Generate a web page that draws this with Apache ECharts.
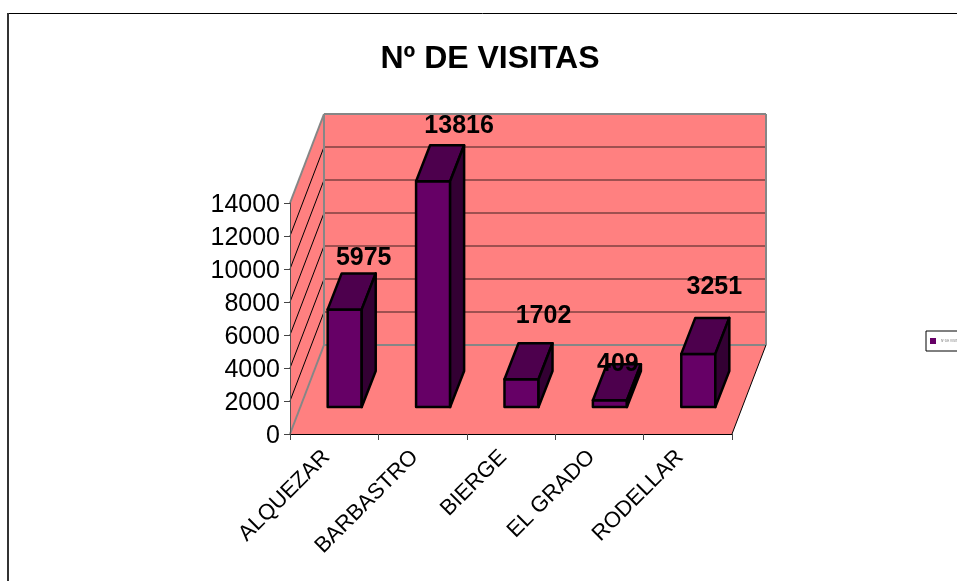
<!DOCTYPE html>
<html>
<head>
<meta charset="utf-8">
<style>
  html, body { margin: 0; padding: 0; background: #fff; }
  #chart { width: 957px; height: 581px; }
</style>
<script src="https://cdn.jsdelivr.net/npm/echarts@6/dist/echarts.min.js"></script>
</head>
<body>
<div id="chart"></div>
<script>
const categories = ['ALQUEZAR', 'BARBASTRO', 'BIERGE', 'EL GRADO', 'RODELLAR']
const visits = [5975, 13816, 1702, 409, 3251]
const yTicks = [0, 2000, 4000, 6000, 8000, 10000, 12000, 14000]
const seriesName = 'Nº DE VISITAS'

// fake 3d: how far the back of the floor sits from the front
const floorDx = 34, floorDy = -89
// where the bars stand on the floor and how deep they are
const barDx = 10.5, barDy = -27, topDx = 14, topDy = -36
const barScale = 0.99
// excel put the value labels by hand, offset from the front top left of each bar
const labelShift = [[36, -51], [43, -55], [39, -63], [25, -36], [33, -67]]

const font = '"Liberation Sans", Arial, sans-serif'
const wallColor = '#FF8080', edgeGrey = '#868686'

const poly = (points, fill) => ({
    type: 'polygon',
    shape: {points},
    style: {fill, stroke: 'none'}
})
const line = (x1, y1, x2, y2, stroke, lineWidth) => ({
    type: 'line',
    shape: {x1, y1, x2, y2},
    style: {stroke, lineWidth}
})

const renderWalls = (params, api) => {
    const c = params.coordSys
    const l = c.x, r = c.x + c.width, b = c.y + c.height, t = c.y
    const children = [
        poly([[l + floorDx, t + floorDy], [r + floorDx, t + floorDy], [r + floorDx, b + floorDy], [l + floorDx, b + floorDy]], wallColor),
        poly([[l, t], [l + floorDx, t + floorDy], [l + floorDx, b + floorDy], [l, b]], wallColor),
        poly([[l, b], [r, b], [r + floorDx, b + floorDy], [l + floorDx, b + floorDy]], wallColor),
    ]
    yTicks.slice(1, -1).forEach(v => {
        const y = api.coord([0, v])[1]
        children.push(line(l + floorDx, y + floorDy, r + floorDx, y + floorDy, '#7F4040', 1.5))
        children.push(line(l, y, l + floorDx, y + floorDy, '#000', 1))
    })
    children.push(line(l, b, l + floorDx, b + floorDy, edgeGrey, 2))
    children.push(line(l + floorDx, b + floorDy, r + floorDx, b + floorDy, edgeGrey, 2))
    children.push(line(l, t, l + floorDx, t + floorDy, edgeGrey, 2))
    children.push(line(l + floorDx, t + floorDy, r + floorDx, t + floorDy, edgeGrey, 2))
    children.push(line(l + floorDx, t + floorDy, l + floorDx, b + floorDy, edgeGrey, 2))
    children.push(line(r + floorDx, t + floorDy, r + floorDx, b + floorDy, edgeGrey, 2))
    children.push(line(r, b, r + floorDx, b + floorDy, '#000', 1))
    return {type: 'group', children}
}

const renderBar = (params, api) => {
    const i = api.value(0)
    const base = api.coord([i, 0])
    const top = api.coord([i, api.value(1)])
    const w = api.size([1, 0])[0] * 0.385
    const x0 = base[0] + barDx - w / 2
    const x1 = x0 + w
    const y0 = base[1] + barDy
    const y1 = y0 - (base[1] - top[1]) * barScale
    const faces = [
        [[x0, y1], [x1, y1], [x1, y0], [x0, y0]],
        [[x0, y1], [x0 + topDx, y1 + topDy], [x1 + topDx, y1 + topDy], [x1, y1]],
        [[x1, y1], [x1 + topDx, y1 + topDy], [x1 + topDx, y0 + topDy], [x1, y0]],
    ]
    const fills = ['#660066', '#4D004D', '#330033']
    const children = faces.map((points, k) => ({
        type: 'polygon',
        shape: {points},
        style: {fill: fills[k], stroke: '#000', lineWidth: 2.5, lineJoin: 'round'}
    }))
    const shift = labelShift[params.dataIndex]
    children.push({
        type: 'text',
        z2: 10,
        style: {
            x: x0 + shift[0],
            y: y1 + shift[1],
            text: String(api.value(1)),
            fill: '#000',
            font: 'bold 25px ' + font,
            align: 'center',
            verticalAlign: 'middle'
        }
    })
    return {type: 'group', children}
}

const option = {
    animation: false,
    backgroundColor: '#fff',
    title: {
        text: seriesName,
        left: 485,
        top: 38,
        textAlign: 'center',
        textStyle: {fontFamily: font, fontSize: 32, fontWeight: 'bold', color: '#000'}
    },
    legend: {
        data: [seriesName],
        left: 926,
        top: 331,
        orient: 'vertical',
        padding: [7, 30, 7, 4],
        itemWidth: 6,
        itemHeight: 6,
        itemGap: 0,
        icon: 'rect',
        backgroundColor: '#fff',
        borderColor: '#000',
        borderWidth: 1,
        textStyle: {fontFamily: font, fontSize: 3, color: '#777'}
    },
    grid: {left: 290, top: 203, width: 442, height: 231},
    xAxis: {
        type: 'category',
        data: categories,
        z: 3,
        axisLine: {lineStyle: {color: '#000', width: 1}},
        axisTick: {show: true, length: 6, alignWithLabel: false, lineStyle: {color: '#444'}},
        axisLabel: {
            rotate: 45,
            interval: 0,
            margin: 12,
            padding: [0, 11, 0, 0],
            fontFamily: font,
            fontSize: 22,
            color: '#000'
        }
    },
    yAxis: {
        type: 'value',
        min: 0,
        max: 14000,
        interval: 2000,
        z: 3,
        axisLine: {show: true, lineStyle: {color: '#555', width: 1}},
        axisTick: {show: true, length: 6, lineStyle: {color: '#444'}},
        splitLine: {show: false},
        axisLabel: {
            margin: 10,
            verticalAlign: 'top',
            lineHeight: 4,
            formatter: v => String(v),
            fontFamily: font,
            fontSize: 25,
            color: '#000'
        }
    },
    series: [
        {
            type: 'custom',
            name: 'walls',
            z: 1,
            silent: true,
            renderItem: renderWalls,
            encode: {x: 0, y: 1},
            data: [[0, 0]]
        },
        {
            type: 'custom',
            name: seriesName,
            z: 4,
            renderItem: renderBar,
            encode: {x: 0, y: 1},
            itemStyle: {color: '#660066'},
            data: visits.map((v, i) => [i, v])
        }
    ],
    graphic: [
        {type: 'line', shape: {x1: 8, y1: 13.5, x2: 957, y2: 13.5}, style: {stroke: '#000', lineWidth: 1}},
        {type: 'line', shape: {x1: 8, y1: 13, x2: 8, y2: 581}, style: {stroke: '#333', lineWidth: 2}}
    ]
}

const chart = echarts.init(document.getElementById('chart'))
chart.setOption(option)
</script>
</body>
</html>
